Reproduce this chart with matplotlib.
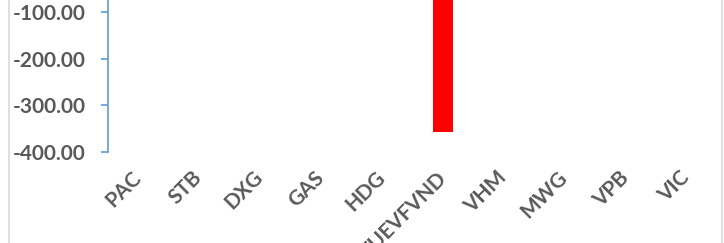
import matplotlib
matplotlib.use("Agg")
import matplotlib.pyplot as plt
import matplotlib.transforms as mtransforms
from matplotlib.lines import Line2D

# data
tickers = ["PAC", "STB", "DXG", "GAS", "HDG", "FUEVFVND", "VHM", "MWG", "VPB", "VIC"]
values = [0, 0, 0, 0, 0, -357, 0, 0, 0, 0]
yticks = [-400, -300, -200, -100]

W, H = 724, 243
fig = plt.figure(figsize=(W / 100, H / 100), dpi=100)

# axes: y-axis at x=108, plot right edge ~717, -400 at y=152, 0 at y~-35 (cropped above)
left = 108 / W
right = 717 / W
bottom = (H - 152) / H
top = (H + 34.7) / H
ax = fig.add_axes([left, bottom, right - left, top - bottom])

x = list(range(len(tickers)))
ax.bar(x, values, width=0.33, color="#FF0000", zorder=3)

ax.set_xlim(-0.5, len(tickers) - 0.5)
ax.set_ylim(-400, 0)
ax.set_yticks(yticks)
ax.set_yticklabels(["%.2f" % v for v in yticks])

for s in ["top", "right", "bottom"]:
    ax.spines[s].set_visible(False)
ax.spines["left"].set_color("#5B9BD5")
ax.spines["left"].set_linewidth(1.2)

ax.tick_params(axis="y", direction="out", length=5, width=1.2, color="#5B9BD5",
               pad=11, labelsize=15, labelcolor="#595959")
ax.tick_params(axis="x", length=0, pad=11, labelsize=15, labelcolor="#595959")

ax.set_xticks(x)
ax.set_xticklabels(tickers, rotation=45, ha="right")
offset = mtransforms.ScaledTranslation(5 / 72, 0, fig.dpi_scale_trans)
for lab in ax.get_xticklabels():
    lab.set_transform(lab.get_transform() + offset)

for lab in ax.get_xticklabels() + ax.get_yticklabels():
    lab.set_fontfamily(["Lato", "DejaVu Sans"])
    lab.set_fontweight("bold")

# chart border lines
fig.add_artist(Line2D([8.5 / W, 8.5 / W], [0, 1], color="#D9D9D9", lw=1.2))
fig.add_artist(Line2D([722 / W, 722 / W], [0, 1], color="#D9D9D9", lw=1.2))

fig.savefig("out.png", dpi=100)
